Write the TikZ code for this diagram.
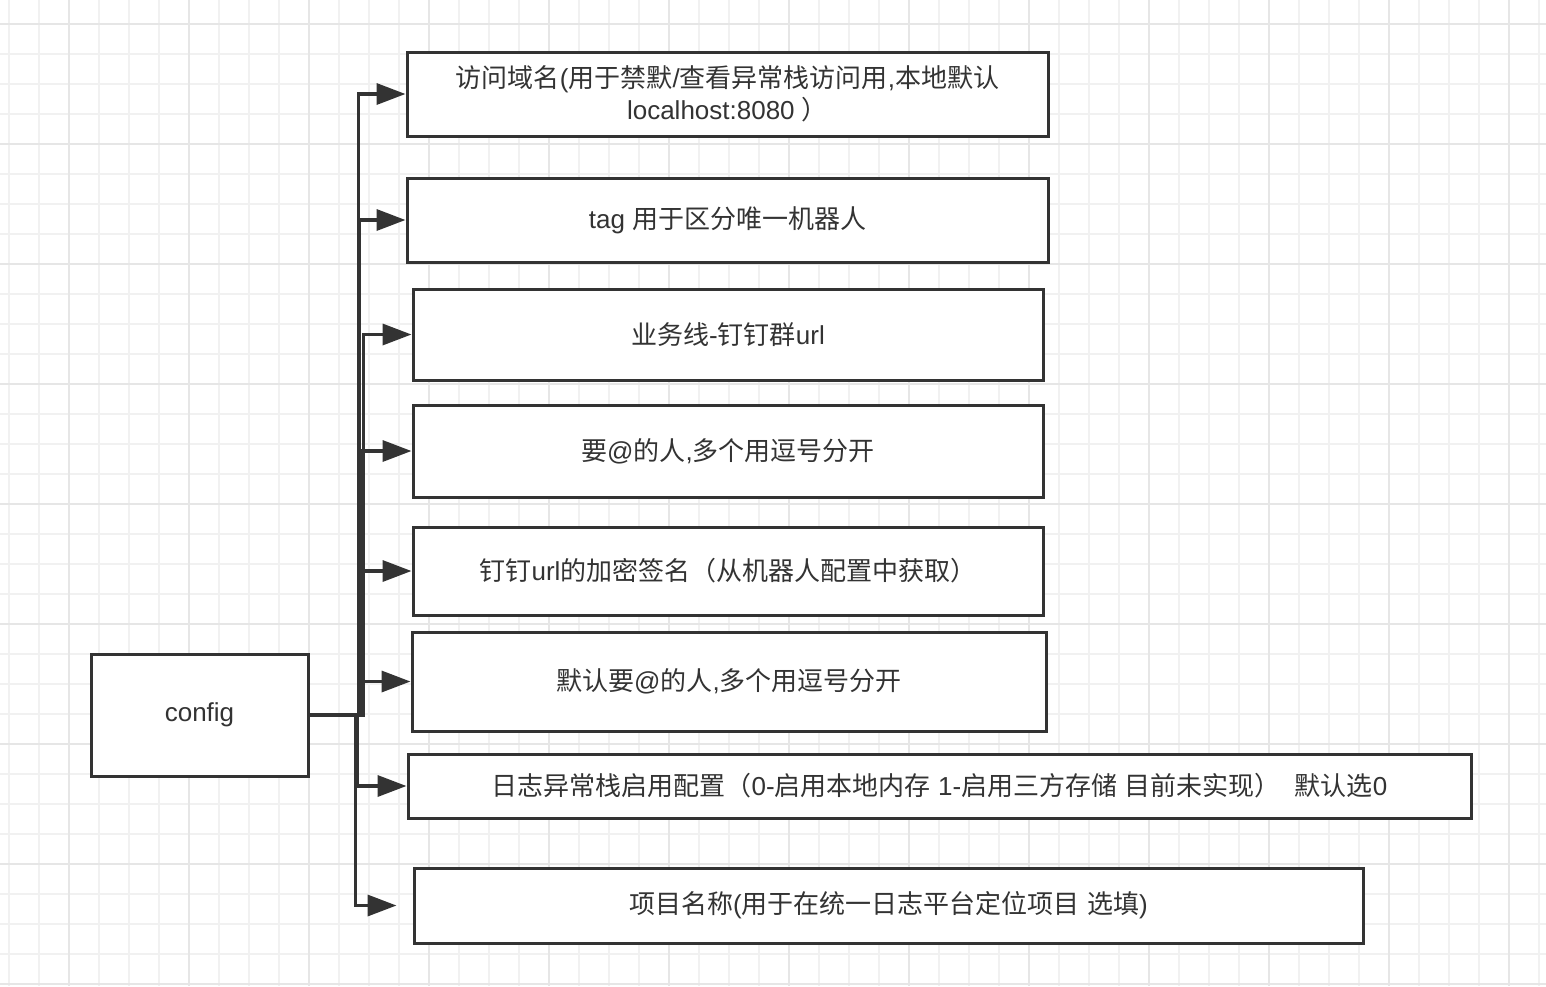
\documentclass[tikz,border=0pt]{standalone}
\usepackage{fontspec}
\setmainfont{Noto Sans CJK SC}
\newfontfamily\lat{Liberation Sans}
\usetikzlibrary{arrows.meta,positioning}

\definecolor{ink}{HTML}{333333}
\definecolor{gridminor}{HTML}{F1F1F1}
\definecolor{gridmajor}{HTML}{E6E6E6}

\tikzset{
  box/.style={draw=ink,line width=3pt,fill=white,text=ink,align=center,
    font=\fontsize{26}{32}\selectfont,inner sep=0pt},
  conn/.style={draw=ink,line width=3.5pt,-{Triangle[length=29pt,width=21pt]}},
  elbow/.style={to path={-- ++(#1,0) |- (\tikztotarget) \tikztonodes}}
}

\begin{document}
\begin{tikzpicture}[x=1pt,y=-1pt]
  \useasboundingbox (0,0) rectangle (1546,986);
  \fill[white] (0,0) rectangle (1546,986);
  % grid
  \foreach \x in {9,39,...,1539} \draw[gridminor,line width=1.5pt] (\x,0) -- (\x,986);
  \foreach \y in {24,54,...,984} \draw[gridminor,line width=1.5pt] (0,\y) -- (1546,\y);
  \foreach \x in {69,189,...,1509} \draw[gridmajor,line width=1.5pt] (\x,0) -- (\x,986);
  \foreach \y in {24,144,...,984} \draw[gridmajor,line width=1.5pt] (0,\y) -- (1546,\y);

  \node[box,minimum width=217pt,minimum height=122pt] (config) at (199.5,715) {\lat config};

  \node[box,minimum width=641pt,minimum height=84pt] (b1) at (727.5,94)
    {访问域名{\lat(}用于禁默{\lat/}查看异常栈访问用{\lat,}本地默认\\{\lat localhost:8080 }）};
  \node[box,minimum width=641pt,minimum height=84pt] (b2) at (727.5,220) {{\lat tag }用于区分唯一机器人};
  \node[box,minimum width=630pt,minimum height=91pt] (b3) at (728,334.5) {业务线{\lat -}钉钉群{\lat url}};
  \node[box,minimum width=630pt,minimum height=92pt] (b4) at (728,451) {要{\lat @}的人{\lat,}多个用逗号分开};
  \node[box,minimum width=630pt,minimum height=88pt] (b5) at (728,571) {钉钉{\lat url}的加密签名（从机器人配置中获取）};
  \node[box,minimum width=634pt,minimum height=99pt] (b6) at (729,681.5) {默认要{\lat @}的人{\lat,}多个用逗号分开};
  \node[box,minimum width=1063pt,minimum height=64pt] (b7) at (939.5,786)
    {日志异常栈启用配置（{\lat 0-}启用本地内存{\lat\ 1-}启用三方存储{\lat\ }目前未实现）{\lat\ \ }默认选{\lat 0}};
  \node[box,minimum width=949pt,minimum height=75pt] (b8) at (888.5,905.5) {项目名称{\lat(}用于在统一日志平台定位项目{\lat\ }选填{\lat)}};

  \path (config.east) edge[conn,elbow=49] (b1)
        (config.east) edge[conn,elbow=50] (b2)
        (config.east) edge[conn,elbow=54] (b3)
        (config.east) edge[conn,elbow=52] (b4)
        (config.east) edge[conn,elbow=53] (b5)
        (config.east) edge[conn,elbow=52] (b6)
        (config.east) edge[conn,elbow=48] (b7)
        (config.east) edge[conn,elbow=46,shorten >=16pt] (b8);
\end{tikzpicture}
\end{document}
